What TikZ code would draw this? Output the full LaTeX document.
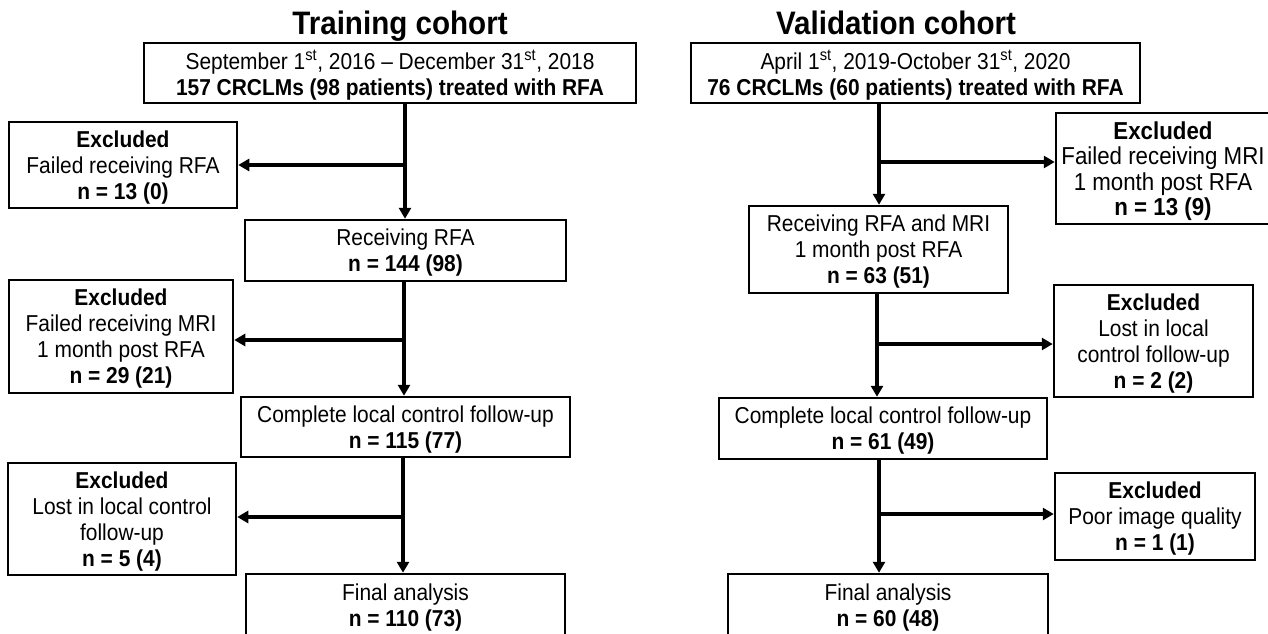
\documentclass[tikz,border=0pt]{standalone}
\usepackage{fontspec}
\setmainfont[FakeStretch=0.91]{Liberation Sans}
\usetikzlibrary{arrows.meta}
\begin{document}
\begin{tikzpicture}[x=1pt,y=-1pt,
  box/.style={draw, line width=2.5pt, inner sep=0pt, align=center, text depth=-1pt,
    font=\fontsize{23}{26}\selectfont},
  bigbox/.style={box, font=\fontsize{24.5}{25.5}\selectfont},
  title/.style={font=\fontsize{32.5}{36}\selectfont\bfseries, anchor=base, inner sep=0pt},
  arr/.style={line width=3.5pt, -{Triangle[length=11pt,width=12pt]}}]
\clip (0,0) rectangle (1268,634);
\fill[white] (0,0) rectangle (1268,634);
% titles
\node[title] (T1) at (400,35) {Training cohort};
\node[title] (T2) at (896,35) {Validation cohort};
% left column
\node[box, minimum width=492pt, minimum height=60pt] (L0) at (390,73)
  {September 1\textsuperscript{st}, 2016 -- December 31\textsuperscript{st}, 2018\\
   \textbf{157 CRCLMs (98 patients) treated with RFA}};
\node[box, minimum width=228pt, minimum height=86pt] (L1) at (123,165)
  {\textbf{Excluded}\\Failed receiving RFA\\\textbf{n = 13 (0)}};
\node[box, minimum width=321pt, minimum height=61pt] (L2) at (405.5,250.5)
  {Receiving RFA\\\textbf{n = 144 (98)}};
\node[box, minimum width=224pt, minimum height=113pt] (L3) at (121,336.5)
  {\textbf{Excluded}\\Failed receiving MRI\\1 month post RFA\\\textbf{n = 29 (21)}};
\node[box, minimum width=329pt, minimum height=60pt] (L4) at (405.5,427)
  {Complete local control follow-up\\\textbf{n = 115 (77)}};
\node[box, minimum width=228pt, minimum height=112pt] (L5) at (122,519)
  {\textbf{Excluded}\\Lost in local control\\follow-up\\\textbf{n = 5 (4)}};
\node[box, minimum width=319pt, minimum height=62pt] (L6) at (405.5,605)
  {Final analysis\\\textbf{n = 110 (73)}};
% right column
\node[box, minimum width=449pt, minimum height=60pt] (R0) at (915.5,73)
  {April 1\textsuperscript{st}, 2019-October 31\textsuperscript{st}, 2020\\
   \textbf{76 CRCLMs (60 patients) treated with RFA}};
\node[bigbox, minimum width=214pt, minimum height=111pt] (R1) at (1163,168.5)
  {\textbf{Excluded}\\Failed receiving MRI\\1 month post RFA\\\textbf{n = 13 (9)}};
\node[box, minimum width=259pt, minimum height=87pt] (R2) at (878.5,249.5)
  {Receiving RFA and MRI\\1 month post RFA\\\textbf{n = 63 (51)}};
\node[box, minimum width=199pt, minimum height=112pt] (R3) at (1153.5,341)
  {\textbf{Excluded}\\Lost in local\\control follow-up\\\textbf{n = 2 (2)}};
\node[box, minimum width=328pt, minimum height=61pt] (R4) at (883,428.5)
  {Complete local control follow-up\\\textbf{n = 61 (49)}};
\node[box, minimum width=200pt, minimum height=87pt] (R5) at (1155,516.5)
  {\textbf{Excluded}\\Poor image quality\\\textbf{n = 1 (1)}};
\node[box, minimum width=320pt, minimum height=62pt] (R6) at (888,605)
  {Final analysis\\\textbf{n = 60 (48)}};
% junctions
\coordinate (b1) at (405,165);
\coordinate (b2) at (404,340);
\coordinate (b3) at (403,517);
\coordinate (b4) at (879,162);
\coordinate (b5) at (877,344);
\coordinate (b6) at (879,514);
% connectors left
\draw[arr] (L0.south -| b1) -- (L2.north -| b1);
\draw[arr] (b1) -- (L1.east |- b1);
\draw[arr] (L2.south -| b2) -- (L4.north -| b2);
\draw[arr] (b2) -- (L3.east |- b2);
\draw[arr] (L4.south -| b3) -- (L6.north -| b3);
\draw[arr] (b3) -- (L5.east |- b3);
% connectors right
\draw[arr] (R0.south -| b4) -- (R2.north -| b4);
\draw[arr] (b4) -- (R1.west |- b4);
\draw[arr] (R2.south -| b5) -- (R4.north -| b5);
\draw[arr] (b5) -- (R3.west |- b5);
\draw[arr] (R4.south -| b6) -- (R6.north -| b6);
\draw[arr] (b6) -- (R5.west |- b6);
\end{tikzpicture}
\end{document}
